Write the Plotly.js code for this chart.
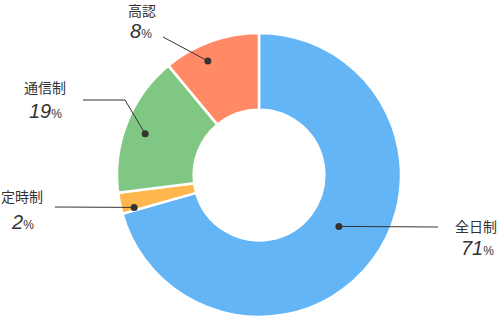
<!DOCTYPE html>
<html><head><meta charset="utf-8">
<script src="https://cdn.plot.ly/plotly-3.0.1.min.js"></script>
<style>html,body{margin:0;padding:0;background:#fff}#c{width:498px;height:317px}</style>
</head><body><div id="c"></div>
<script>
// Data
const categories = ['全日制', '定時制', '通信制', '高認'];
// slice sizes as drawn in the picture
const values = [70.6, 2.4, 16.0, 11.0];
// percentages printed on the labels
const pctLabels = [71, 2, 19, 8];
const colors = ['#64B5F6', '#FFB74D', '#81C784', '#FF8A65'];

// Layout configuration (pixel geometry of the figure)
const W = 498, H = 317;
const CX = 259, CY = 175, R = 142;
// leader anchor inside each slice: fraction through slice and radius (px)
const anchorFrac = [0.483, 0.15, 0.47, 0.39];
const anchorRad = [95, 129, 121, 125];
// label positions (px): name center, pct center, leader path start points
const nameXY = [[476, 226], [22, 196], [45, 87], [142, -2]];
const pctXY = [[477, 248], [22, 222], [45, 111], [141, 31]];
const leaderPts = [[[438, 227]], [[55, 207]], [[83, 100], [125, 100]], [[163, 37]]];

const px = x => x / W, py = y => 1 - y / H;

const total = values.reduce((a, b) => a + b, 0);
let cum = 0;
const shapes = [], annotations = [];
values.forEach((v, i) => {
  const th = (cum + anchorFrac[i] * v) / total * 2 * Math.PI;
  cum += v;
  const dx = CX + anchorRad[i] * Math.sin(th);
  const dy = CY - anchorRad[i] * Math.cos(th);
  const pts = leaderPts[i].concat([[dx, dy]]);
  const path = pts.map((p, k) => (k ? 'L' : 'M') + px(p[0]) + ',' + py(p[1])).join(' ');
  shapes.push({type: 'path', xref: 'paper', yref: 'paper', path: path, line: {color: '#333', width: 1}});
  shapes.push({type: 'circle', xref: 'paper', yref: 'paper', xsizemode: 'pixel', ysizemode: 'pixel',
    xanchor: px(dx), yanchor: py(dy), x0: -3.5, x1: 3.5, y0: -3.5, y1: 3.5,
    fillcolor: '#333', line: {width: 0}});
  annotations.push({xref: 'paper', yref: 'paper', x: px(nameXY[i][0]), y: py(nameXY[i][1]),
    xanchor: 'center', yanchor: i === 3 ? 'top' : 'middle', showarrow: false, text: categories[i],
    font: {family: 'Noto Sans CJK JP, sans-serif', size: 14, color: '#333'}});
  annotations.push({xref: 'paper', yref: 'paper', x: px(pctXY[i][0]), y: py(pctXY[i][1]),
    xanchor: 'center', yanchor: 'middle', showarrow: false,
    text: '<i>' + pctLabels[i] + '</i><span style="font-size:12px">%</span>',
    font: {family: 'Liberation Sans, Arial, sans-serif', size: 20, color: '#333'}});
});

const data = [{
  type: 'pie', labels: categories, values: values, sort: false, direction: 'clockwise', rotation: 0,
  hole: 0.46, textinfo: 'none', hoverinfo: 'label',
  marker: {colors: colors, line: {color: '#fff', width: 2.5}},
  domain: {x: [px(CX - R), px(CX + R)], y: [py(CY + R), py(CY - R)]}
}];
const layout = {
  width: W, height: H, margin: {l: 0, r: 0, t: 0, b: 0}, showlegend: false,
  paper_bgcolor: '#fff', shapes: shapes, annotations: annotations
};
Plotly.newPlot('c', data, layout, {displayModeBar: false, staticPlot: true});
</script></body></html>
